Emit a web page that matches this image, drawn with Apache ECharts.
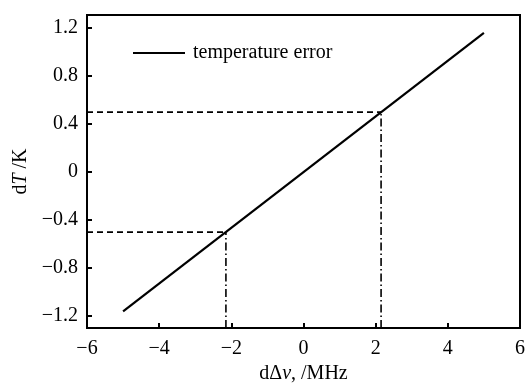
<!DOCTYPE html>
<html>
<head>
<meta charset="utf-8">
<script src="https://cdn.jsdelivr.net/npm/echarts@6/dist/echarts.min.js"></script>
<style>
  html, body { margin: 0; padding: 0; background: #fff; }
  #chart { width: 528px; height: 389px; }
</style>
</head>
<body>
<div id="chart"></div>
<script>
// data
const lineX = [-5, 5];
const lineY = [-1.16, 1.16];
const crossX = [-2.15, 2.15];   // where the line hits ±0.5
const crossY = [-0.5, 0.5];
const yTicks = [-1.2, -0.8, -0.4, 0, 0.4, 0.8, 1.2];
const xMin = -6, xMax = 6;
const yMin = -1.3, yMax = 1.31;

const FONT = 'Liberation Serif';
const FS = 20;
const minus = v => String(v).replace('-', '\u2212');

const chart = echarts.init(document.getElementById('chart'), null, { renderer: 'canvas' });

const series = [
  {
    name: 'temperature error',
    type: 'line',
    data: lineX.map((x, i) => [x, lineY[i]]),
    showSymbol: false,
    lineStyle: { color: '#000', width: 2.2 },
    itemStyle: { color: '#000' },
    z: 5
  }
];

// guide lines: dashed horizontal from the left edge, dash-dot vertical from the bottom
crossY.forEach((y, i) => {
  series.push({
    type: 'line',
    data: [[xMin, y], [crossX[i], y]],
    showSymbol: false,
    silent: true,
    lineStyle: { color: '#000', width: 1.6, type: [6, 4] }
  });
  series.push({
    type: 'line',
    data: [[crossX[i], yMin], [crossX[i], y]],
    showSymbol: false,
    silent: true,
    lineStyle: { color: '#000', width: 1.6, type: [8, 3, 1.5, 3] }
  });
});

const rich = {
  r: { fontFamily: FONT, fontSize: FS, color: '#000' },
  i: { fontFamily: FONT, fontSize: FS, color: '#000', fontStyle: 'italic' }
};

const option = {
  animation: false,
  grid: {
    left: 87, right: 8, top: 15, bottom: 50,
    show: true,
    borderColor: '#000',
    borderWidth: 2
  },
  legend: {
    data: [{ name: 'temperature error', icon: 'rect' }],
    left: 133, top: 43,
    padding: 0,
    itemWidth: 52, itemHeight: 2,
    textStyle: { fontFamily: FONT, fontSize: FS, color: '#000', padding: [0, 0, 0, 3] }
  },
  xAxis: {
    type: 'value',
    min: xMin, max: xMax, interval: 2,
    splitLine: { show: false },
    axisLine: { onZero: false, lineStyle: { color: '#000', width: 2 } },
    axisTick: { inside: true, length: 5, lineStyle: { color: '#000', width: 2 } },
    axisLabel: {
      fontFamily: FONT, fontSize: FS, color: '#000', margin: 11,
      formatter: minus
    },
    name: '{r|d\u0394}{i|\u03bd}{r|, /MHz}',
    nameLocation: 'middle',
    nameGap: 29,
    nameTextStyle: { rich: rich }
  },
  yAxis: {
    type: 'value',
    min: yMin, max: yMax,
    splitLine: { show: false },
    axisLine: { onZero: false, lineStyle: { color: '#000', width: 2 } },
    axisTick: {
      inside: true, length: 5, customValues: yTicks,
      lineStyle: { color: '#000', width: 2 }
    },
    axisLabel: {
      fontFamily: FONT, fontSize: FS, color: '#000', margin: 9,
      customValues: yTicks,
      formatter: minus
    },
    name: '{r|d}{i|T}{r| /K}',
    nameLocation: 'middle',
    nameRotate: 90,
    nameGap: 56,
    nameTextStyle: { rich: rich }
  },
  series: series
};

chart.setOption(option);
</script>
</body>
</html>
